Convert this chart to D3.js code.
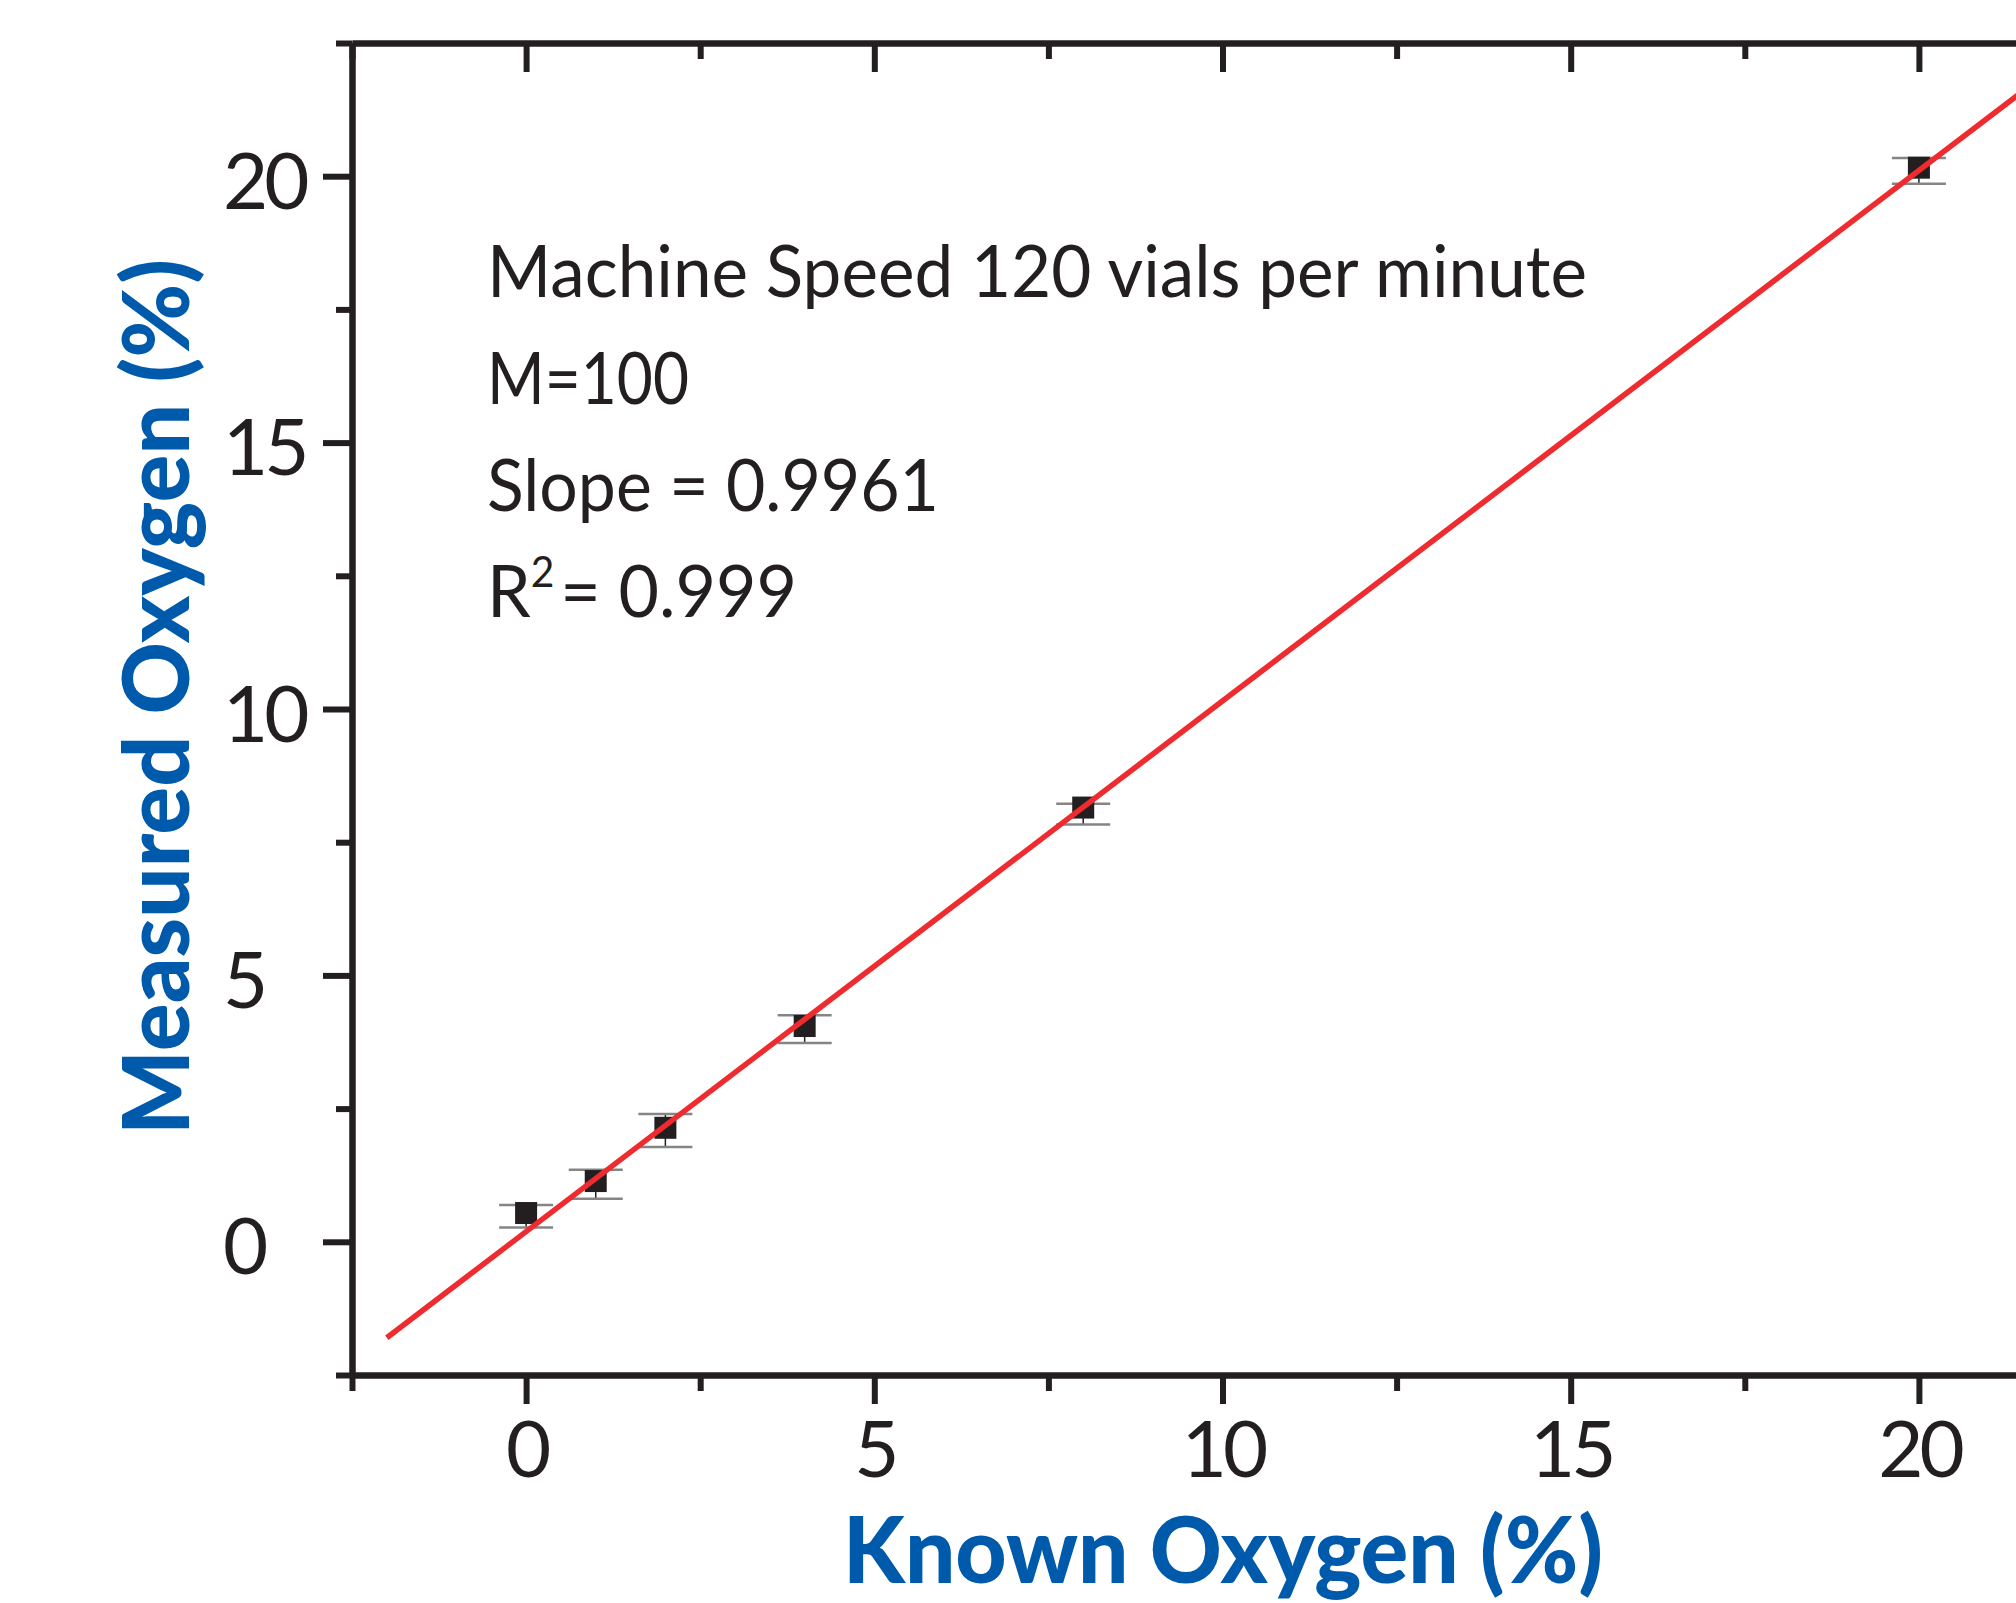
<!DOCTYPE html>
<html>
<head>
<meta charset="utf-8">
<script src="https://cdn.jsdelivr.net/npm/d3@7"></script>
<style>
  html, body { margin: 0; padding: 0; background: #ffffff; }
  svg { display: block; }
</style>
</head>
<body>
<svg id="chart" width="2016" height="1603"></svg>
<script>
// ---------------- data ----------------
const knownOxygen    = [0, 1, 2, 4, 8, 20];
const measuredOxygen = [0.54, 1.14, 2.14, 4.05, 8.15, 20.16];
const errorLow       = [0.27, 0.81, 1.78, 3.73, 7.83, 19.86];
const errorHigh      = [0.69, 1.35, 2.40, 4.25, 8.22, 20.34];

const fitLineX = [-2, 22];
const fitLineY = [-1.80, 22.10];

const majorTicks = [0, 5, 10, 15, 20];
const minorTicks = [-2.5, 2.5, 7.5, 12.5, 17.5, 22.5];

const annotationLines = ["Machine Speed 120 vials per minute", "M=100", "Slope = 0.9961"];
const r2Label = ["R", "2", "= 0.999"];

const xTitle = "Known Oxygen (%)";
const yTitle = "Measured Oxygen (%)";

// ---------------- layout ----------------
(function () {
const ink = "#231f20";
const blue = "#005aab";
const red = "#ee2b2f";
const font = "Lato, 'Open Sans', 'Liberation Sans', sans-serif";

const svg = d3.select("#chart");
svg.append("rect").attr("width", 2016).attr("height", 1603).attr("fill", "#fff");

const x = d3.scaleLinear().domain([-2.5, 22.5]).range([352, 2093]);
const y = d3.scaleLinear().domain([-2.5, 22.5]).range([1375, 43]);

const plotLeft = 352, plotTop = 43, plotBottom = 1375;

function styleAxis(g) {
  g.selectAll("path.domain").attr("stroke", ink).attr("stroke-width", 6);
  g.selectAll(".tick line").attr("stroke", ink).attr("stroke-width", 6);
}

// bottom axis major
const gxMajor = svg.append("g").attr("transform", `translate(0,${plotBottom})`)
  .call(d3.axisBottom(x).tickValues(majorTicks).tickSize(29).tickSizeOuter(0).tickFormat(d3.format("d")));
styleAxis(gxMajor);
gxMajor.selectAll(".tick text")
  .attr("y", 102).attr("dy", 0)
  .attr("font-family", font).attr("font-size", 78).attr("fill", ink)
  .attr("letter-spacing", -4);
// bottom axis minor
const gxMinor = svg.append("g").attr("transform", `translate(0,${plotBottom})`)
  .call(d3.axisBottom(x).tickValues(minorTicks).tickSize(16).tickSizeOuter(0).tickFormat(""));
styleAxis(gxMinor);

// top axis (ticks inward)
const gtMajor = svg.append("g").attr("transform", `translate(0,${plotTop})`)
  .call(d3.axisBottom(x).tickValues(majorTicks).tickSize(29).tickSizeOuter(0).tickFormat(""));
styleAxis(gtMajor);
const gtMinor = svg.append("g").attr("transform", `translate(0,${plotTop})`)
  .call(d3.axisBottom(x).tickValues(minorTicks).tickSize(16).tickSizeOuter(0).tickFormat(""));
styleAxis(gtMinor);

// left axis
const gyMajor = svg.append("g").attr("transform", `translate(${plotLeft},0)`)
  .call(d3.axisLeft(y).tickValues(majorTicks).tickSize(29).tickSizeOuter(0).tickFormat(d3.format("d")));
styleAxis(gyMajor);
gyMajor.selectAll(".tick text")
  .attr("text-anchor", "start").attr("x", -129).attr("dy", 0).attr("y", 32)
  .attr("font-family", font).attr("font-size", 78).attr("fill", ink)
  .attr("letter-spacing", -4);
const gyMinor = svg.append("g").attr("transform", `translate(${plotLeft},0)`)
  .call(d3.axisLeft(y).tickValues(minorTicks).tickSize(16).tickSizeOuter(0).tickFormat(""));
styleAxis(gyMinor);

// ---------------- data marks ----------------
const pts = knownOxygen.map((k, i) => ({x: k, y: measuredOxygen[i], lo: errorLow[i], hi: errorHigh[i]}));
const capHalf = 27;
const gPts = svg.append("g");
gPts.selectAll("line.vbar").data(pts).join("line")
  .attr("class", "vbar")
  .attr("x1", d => x(d.x)).attr("x2", d => x(d.x))
  .attr("y1", d => y(d.lo)).attr("y2", d => y(d.hi))
  .attr("stroke", ink).attr("stroke-width", 1.5);
gPts.selectAll("line.capHi").data(pts).join("line")
  .attr("class", "capHi")
  .attr("x1", d => x(d.x) - capHalf).attr("x2", d => x(d.x) + capHalf)
  .attr("y1", d => y(d.hi)).attr("y2", d => y(d.hi))
  .attr("stroke", "#858585").attr("stroke-width", 2.5);
gPts.selectAll("line.capLo").data(pts).join("line")
  .attr("class", "capLo")
  .attr("x1", d => x(d.x) - capHalf).attr("x2", d => x(d.x) + capHalf)
  .attr("y1", d => y(d.lo)).attr("y2", d => y(d.lo))
  .attr("stroke", "#858585").attr("stroke-width", 2.5);
const sq = 22;
gPts.selectAll("rect.pt").data(pts).join("rect")
  .attr("class", "pt")
  .attr("x", d => x(d.x) - sq / 2).attr("y", d => y(d.y) - sq / 2)
  .attr("width", sq).attr("height", sq)
  .attr("fill", ink);

// fit line
const fitData = fitLineX.map((v, i) => [v, fitLineY[i]]);
svg.append("path")
  .attr("d", d3.line().x(d => x(d[0])).y(d => y(d[1]))(fitData))
  .attr("fill", "none").attr("stroke", red).attr("stroke-width", 5.5);

// ---------------- annotation ----------------
function fitWidth(sel, target) {
  const w = sel.node().getComputedTextLength();
  if (w > 0) sel.attr("textLength", target).attr("lengthAdjust", "spacingAndGlyphs");
}
const annX = 487;
const annBase = [297, 404, 511];
const annWidths = [1100, 202, 452];
annotationLines.forEach((t, i) => {
  const el = svg.append("text")
    .attr("x", annX).attr("y", annBase[i])
    .attr("font-family", font).attr("font-size", 72).attr("fill", ink)
    .text(t);
  fitWidth(el, annWidths[i]);
});
const r2 = svg.append("text")
  .attr("x", annX).attr("y", 617)
  .attr("font-family", font).attr("font-size", 72).attr("fill", ink);
r2.append("tspan").text(r2Label[0]);
r2.append("tspan").attr("font-size", 42).attr("dy", -30).text(r2Label[1]);
r2.append("tspan").attr("dy", 30).attr("dx", 6).text(r2Label[2]);
fitWidth(r2, 310);

// ---------------- axis titles ----------------
const xt = svg.append("text")
  .attr("x", 1223).attr("y", 1583)
  .attr("text-anchor", "middle")
  .attr("font-family", font).attr("font-weight", 900).attr("font-size", 92)
  .attr("fill", blue).text(xTitle);
fitWidth(xt, 760);

const yt = svg.append("text")
  .attr("transform", "translate(189,697) rotate(-90)")
  .attr("text-anchor", "middle")
  .attr("font-family", font).attr("font-weight", 900).attr("font-size", 92)
  .attr("fill", blue).text(yTitle);
fitWidth(yt, 876);
})();
</script>
</body>
</html>
